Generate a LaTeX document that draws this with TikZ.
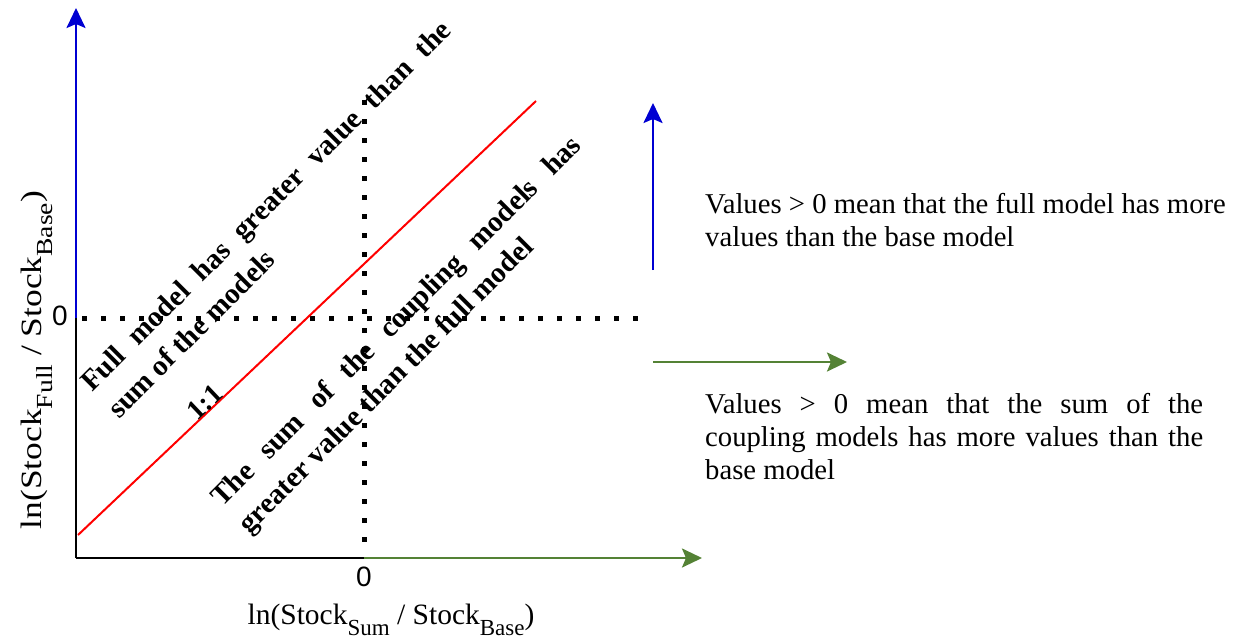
\documentclass[tikz,border=0pt]{standalone}
\usepackage{fontspec}
\setmainfont{Liberation Serif}
\newfontfamily\zerofont{Liberation Sans}
\usetikzlibrary{arrows.meta}
\definecolor{posblue}{RGB}{0,0,210}
\definecolor{posgreen}{RGB}{84,130,53}
\newcommand{\lowsub}[1]{\raisebox{-0.35em}{\fontsize{23}{23}\selectfont #1}}

\begin{document}
\begin{tikzpicture}[x=1pt,y=-1pt,>={Stealth[length=20pt,width=19pt,inset=4pt]},
    axisline/.style={line width=2.5pt},
    zeroline/.style={line width=5pt,dash pattern=on 5pt off 14pt},
    note/.style={font=\fontsize{28.7}{33}\selectfont,inner sep=0pt,anchor=north west},
    region/.style={font=\bfseries\fontsize{29}{38}\selectfont,rotate=45,text width=510pt,align=justify,inner sep=0pt},
    zerotick/.style={font=\zerofont\fontsize{28}{28}\selectfont,inner sep=0pt},
    axislabel/.style={font=\fontsize{29.5}{29.5}\selectfont,inner sep=0pt}]
  \useasboundingbox (0,0) rectangle (1240,640);
  % axes
  \coordinate (origin) at (76,558);
  \coordinate (yzero) at (76,318);
  \coordinate (ytop) at (76,8);
  \coordinate (xzero) at (364,558);
  \coordinate (xend) at (702,558);
  \draw[axisline] (origin) -- (yzero);
  \draw[axisline,posblue,->] (yzero) -- (ytop);
  \draw[axisline] (origin) -- (xzero);
  \draw[axisline,posgreen,->] (xzero) -- (xend);
  % zero lines
  \draw[zeroline] (82,318) -- (645,318);
  \draw[zeroline] (364,100) -- (364,556);
  % 1:1 line
  \coordinate (redlo) at (78,535);
  \coordinate (redhi) at (536,101);
  \draw[red,line width=2pt] (redlo) -- node[pos=0.29,sloped,anchor=base,inner sep=0pt,text=black,font=\bfseries\fontsize{28}{28}\selectfont] (oneone) {1:1} (redhi);
  % tick labels
  \node[zerotick] (ytick) at (60,316) {0};
  \node[zerotick] (xtick) at (364,577) {0};
  \node[axislabel] (xlabel) at (391,620) {ln(Stock\lowsub{Sum} / Stock\lowsub{Base})};
  \node[axislabel,rotate=90,xscale=1.2] (ylabel) at (37,360) {ln(Stock\lowsub{Full} / Stock\lowsub{Base})};
  % regions
  \node[region] (fullgreater) at (279,219) {Full model has greater value than the\linebreak sum of the models};
  \node[region] (sumgreater) at (411,336) {The sum of the coupling models has\linebreak greater value than the full model};
  % legend arrows
  \coordinate (bluelo) at (653,270);
  \coordinate (bluehi) at (653,103);
  \coordinate (greenlo) at (653,362);
  \coordinate (greenhi) at (847,362);
  \draw[axisline,posblue,->] (bluelo) -- (bluehi);
  \draw[axisline,posgreen,->] (greenlo) -- (greenhi);
  \node[note,align=left] (fullnote) at (705,193) {Values > 0 mean that the full model has more\\values than the base model};
  \node[note,text width=498pt,align=justify] (sumnote) at (705,393) {Values > 0 mean that the sum of the\linebreak coupling models has more values than the\linebreak base model};
\end{tikzpicture}
\end{document}
